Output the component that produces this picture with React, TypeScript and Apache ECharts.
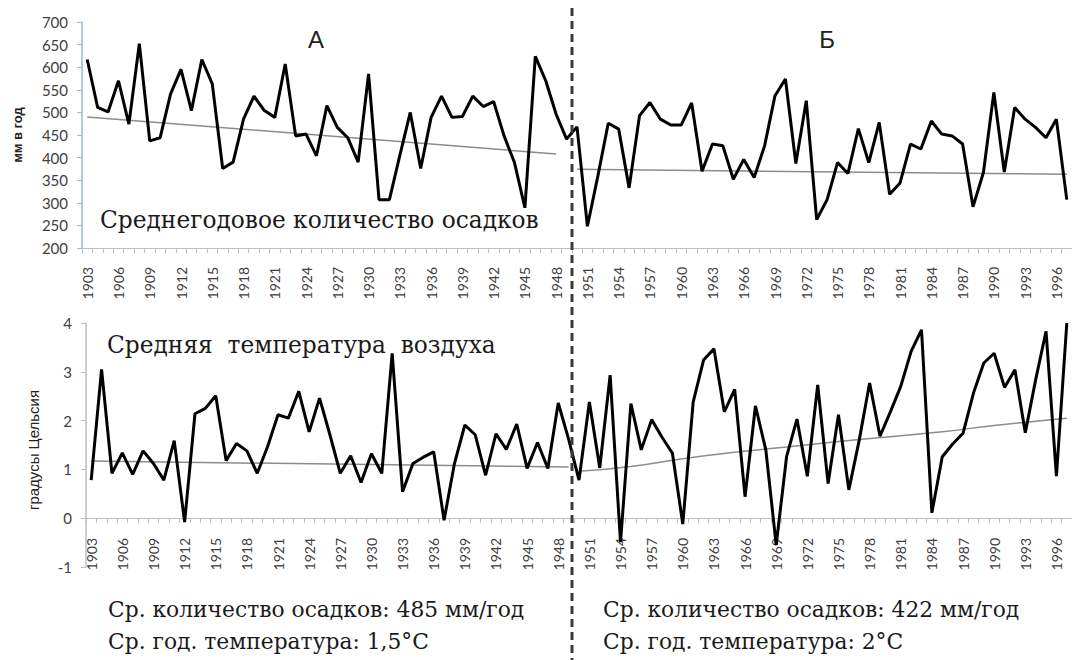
import React, { useEffect, useRef } from "react";
import * as echarts from "echarts";

const years = [
  "1903","1904","1905","1906","1907","1908","1909","1910","1911","1912",
  "1913","1914","1915","1916","1917","1918","1919","1920","1921","1922",
  "1923","1924","1925","1926","1927","1928","1929","1930","1931","1932",
  "1933","1934","1935","1936","1937","1938","1939","1940","1941","1942",
  "1943","1944","1945","1946","1947","1948","1949","1950","1951","1952",
  "1953","1954","1955","1956","1957","1958","1959","1960","1961","1962",
  "1963","1964","1965","1966","1967","1968","1969","1970","1971","1972",
  "1973","1974","1975","1976","1977","1978","1979","1980","1981","1982",
  "1983","1984","1985","1986","1987","1988","1989","1990","1991","1992",
  "1993","1994","1995","1996","1997",
];

const xTickLabels = [
  "1903","1906","1909","1912","1915","1918","1921","1924","1927","1930",
  "1933","1936","1939","1942","1945","1948","1951","1954","1957","1960",
  "1963","1966","1969","1972","1975","1978","1981","1984","1987","1990",
  "1993","1996",
];

const precipitation = [
  617, 511, 501, 570, 474, 652, 437, 444, 541, 595,
  504, 617, 563, 376, 390, 485, 536, 504, 489, 607,
  448, 452, 404, 515, 467, 444, 390, 585, 307, 307,
  405, 500, 376, 489, 536, 489, 491, 536, 513, 524,
  448, 389, 289, 624, 570, 496, 441, 468, 248, 359,
  476, 463, 333, 493, 522, 485, 472, 472, 521, 370,
  430, 426, 352, 396, 356, 426, 537, 574, 387, 526,
  263, 307, 389, 365, 464, 389, 478, 319, 344, 430,
  419, 481, 452, 448, 430, 291, 367, 544, 368, 511,
  485, 467, 444, 485, 307,
];

const temperature = [
  0.78, 3.05, 0.92, 1.34, 0.9, 1.38, 1.12, 0.78, 1.59, -0.08,
  2.14, 2.25, 2.51, 1.18, 1.53, 1.38, 0.92, 1.47, 2.12, 2.05,
  2.6, 1.77, 2.46, 1.71, 0.92, 1.28, 0.73, 1.32, 0.92, 3.38,
  0.54, 1.12, 1.25, 1.36, -0.04, 1.12, 1.91, 1.71, 0.88, 1.73,
  1.41, 1.93, 1.02, 1.55, 1.02, 2.36, 1.62, 0.78, 2.38, 1.03,
  2.93, -0.49, 2.35, 1.4, 2.02, 1.66, 1.33, -0.12, 2.38, 3.24,
  3.47, 2.18, 2.64, 0.44, 2.3, 1.4, -0.55, 1.26, 2.03, 0.86,
  2.73, 0.71, 2.12, 0.58, 1.6, 2.77, 1.68, 2.18, 2.7, 3.42,
  3.86, 0.11, 1.26, 1.52, 1.74, 2.56, 3.18, 3.38, 2.68, 3.04,
  1.75, 2.84, 3.83, 0.86, 4.0,
];

const precipTrendAYears = ["1903", "1948"];
const precipTrendAValues = [490, 408];
const precipTrendBYears = ["1950", "1997"];
const precipTrendBValues = [374, 363];

const tempTrendAYears = ["1903", "1949"];
const tempTrendAValues = [1.17, 1.05];
const tempTrendBYears = ["1950", "1955", "1960", "1965", "1970", "1975", "1980", "1985", "1990", "1997"];
const tempTrendBValues = [0.96, 1.06, 1.22, 1.35, 1.46, 1.57, 1.67, 1.77, 1.9, 2.05];

const precipTicks = { min: 200, max: 700, interval: 50 };
const tempTicks = { min: -1, max: 4, interval: 1 };
const tempAboveZero = { min: 0, max: 4 };

const titlePrecip = "Среднегодовое количество осадков";
const titleTemp = "Средняя  температура  воздуха";
const periodA = "А";
const periodB = "Б";
const precipUnit = "мм в год";
const tempUnit = "градусы Цельсия";
const statsA = ["Ср. количество осадков: 485 мм/год", "Ср. год. температура: 1,5°С"];
const statsB = ["Ср. количество осадков: 422 мм/год", "Ср. год. температура: 2°С"];

const pairs = (xs: string[], vs: number[]) => xs.map((x, i) => [x, vs[i]]);

export default function App() {
  const ref = useRef<HTMLDivElement>(null);
  useEffect(() => {
    document.body.style.margin = "0";
    const chart = echarts.init(ref.current!, undefined, { renderer: "svg" });
    const labelFont = "Lato, 'Noto Sans', sans-serif";
    const serif = "'DejaVu Serif', serif";

    const shownXAxis = (gridIndex: number) => ({
      type: "category",
      gridIndex,
      data: years,
      boundaryGap: true,
      axisLine: { show: true, onZero: false, lineStyle: { color: "#bfbfbf", width: 1 } },
      axisTick: { show: true, interval: 0, length: 5, lineStyle: { color: "#bfbfbf" } },
      axisLabel: { show: false },
      splitLine: { show: false },
    });

    const baseGraphics: any[] = [
      {
        type: "line", z: 10,
        shape: { x1: 572, y1: 8, x2: 572, y2: 660 },
        style: { stroke: "#3a3a3a", lineWidth: 3, lineDash: [8, 5] },
      },
      {
        type: "text", x: 17, y: 135, rotation: Math.PI / 2,
        style: { text: precipUnit, font: "bold 13px 'Liberation Sans', sans-serif", fill: "#222", align: "center", verticalAlign: "middle" },
      },
      {
        type: "text", x: 33, y: 450, rotation: Math.PI / 2,
        style: { text: tempUnit, font: "15px 'Liberation Sans', sans-serif", fill: "#222", align: "center", verticalAlign: "middle" },
      },
      {
        type: "text", x: 316, y: 39,
        style: { text: periodA, font: "24px 'Liberation Sans', sans-serif", fill: "#222", align: "center", verticalAlign: "middle" },
      },
      {
        type: "text", x: 827, y: 39,
        style: { text: periodB, font: "24px 'Liberation Sans', sans-serif", fill: "#222", align: "center", verticalAlign: "middle" },
      },
      {
        type: "text", x: 100, y: 219,
        style: { text: titlePrecip, font: `23.3px ${serif}`, fill: "#1a1a1a", align: "left", verticalAlign: "middle" },
      },
      {
        type: "text", x: 107, y: 344,
        style: { text: titleTemp, font: `23.3px ${serif}`, fill: "#1a1a1a", align: "left", verticalAlign: "middle" },
      },
      {
        type: "text", x: 108, y: 609,
        style: { text: statsA[0], font: `21.8px ${serif}`, fill: "#1a1a1a", align: "left", verticalAlign: "middle" },
      },
      {
        type: "text", x: 108, y: 641,
        style: { text: statsA[1], font: `21.8px ${serif}`, fill: "#1a1a1a", align: "left", verticalAlign: "middle" },
      },
      {
        type: "text", x: 603, y: 609,
        style: { text: statsB[0], font: `21.8px ${serif}`, fill: "#1a1a1a", align: "left", verticalAlign: "middle" },
      },
      {
        type: "text", x: 603, y: 641,
        style: { text: statsB[1], font: `21.8px ${serif}`, fill: "#1a1a1a", align: "left", verticalAlign: "middle" },
      },
    ];

    const option: any = {
      animation: false,
      backgroundColor: "#ffffff",
      grid: [
        { left: 82, top: 22, width: 995, height: 226 },
        { left: 86, top: 323, width: 990, height: 244 },
        { left: 86, top: 323, width: 990, height: 195 },
      ],
      xAxis: [
        shownXAxis(0),
        { type: "category", gridIndex: 1, data: years, boundaryGap: true, show: false },
        shownXAxis(2),
      ],
      yAxis: [
        {
          type: "value",
          gridIndex: 0,
          ...precipTicks,
          axisLine: { show: true, lineStyle: { color: "#9db9d8", width: 1.5 } },
          axisTick: { show: true, length: 5, lineStyle: { color: "#9db9d8" } },
          axisLabel: { margin: 14, fontFamily: labelFont, fontSize: 15, color: "#404040" },
          splitLine: { show: false },
        },
        {
          type: "value",
          gridIndex: 1,
          ...tempTicks,
          axisLine: { show: true, lineStyle: { color: "#bfbfbf", width: 1.5 } },
          axisTick: { show: true, length: 5, lineStyle: { color: "#bfbfbf" } },
          axisLabel: { margin: 14, fontFamily: labelFont, fontSize: 15, color: "#404040" },
          splitLine: { show: false },
        },
        {
          type: "value",
          gridIndex: 2,
          ...tempAboveZero,
          show: false,
          splitLine: { show: false },
        },
      ],
      series: [
        {
          type: "line", xAxisIndex: 0, yAxisIndex: 0, data: precipitation,
          symbol: "none", lineStyle: { color: "#000", width: 3 }, z: 3,
        },
        {
          type: "line", xAxisIndex: 0, yAxisIndex: 0, data: pairs(precipTrendAYears, precipTrendAValues),
          symbol: "none", lineStyle: { color: "#8c8c8c", width: 1.5 }, z: 2,
        },
        {
          type: "line", xAxisIndex: 0, yAxisIndex: 0, data: pairs(precipTrendBYears, precipTrendBValues),
          symbol: "none", lineStyle: { color: "#8c8c8c", width: 1.5 }, z: 2,
        },
        {
          type: "line", xAxisIndex: 1, yAxisIndex: 1, data: temperature,
          symbol: "none", lineStyle: { color: "#000", width: 3 }, z: 3,
        },
        {
          type: "line", xAxisIndex: 1, yAxisIndex: 1, data: pairs(tempTrendAYears, tempTrendAValues),
          symbol: "none", lineStyle: { color: "#8c8c8c", width: 1.5 }, z: 2,
        },
        {
          type: "line", xAxisIndex: 1, yAxisIndex: 1, data: pairs(tempTrendBYears, tempTrendBValues),
          symbol: "none", smooth: true, lineStyle: { color: "#8c8c8c", width: 1.5 }, z: 2,
        },
      ],
      graphic: baseGraphics,
    };
    chart.setOption(option);

    // Rotated year labels, positioned through the axes' own scales
    const labelGraphics: any[] = [];
    const addLabels = (gridIndex: number, base: number, margin: number) => {
      xTickLabels.forEach((yr) => {
        const pt = chart.convertToPixel({ gridIndex } as any, [yr, base]) as number[];
        labelGraphics.push({
          type: "text",
          x: pt[0],
          y: pt[1] + margin,
          rotation: Math.PI / 2,
          style: {
            text: yr,
            font: `14px ${labelFont}`,
            fill: "#404040",
            align: "right",
            verticalAlign: "middle",
          },
        });
      });
    };
    addLabels(0, precipTicks.min, 19);
    addLabels(2, tempAboveZero.min, 20);
    chart.setOption({ graphic: [...baseGraphics, ...labelGraphics] });

    return () => chart.dispose();
  }, []);
  return <div ref={ref} style={{ width: 1072, height: 660 }} />;
}
